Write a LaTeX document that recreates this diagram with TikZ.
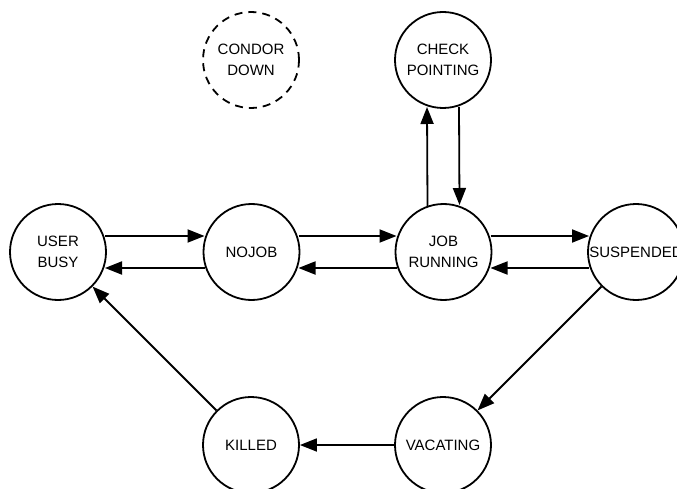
\documentclass[tikz,border=0pt]{standalone}
\usepackage{fontspec}
\setmainfont{Liberation Sans}
\usetikzlibrary{arrows.meta,calc}
\begin{document}
\begin{tikzpicture}[x=1pt,y=-1pt,
  state/.style={circle,draw,line width=1.8pt,minimum size=96pt,inner sep=0pt,
    align=center,font=\fontsize{15}{21}\selectfont},
  ghost/.style={state,dashed,dash pattern=on 8pt off 6pt},
  tr/.style={line width=1.8pt,-{Triangle[length=17pt,width=13pt]}}]
\useasboundingbox (0,0) rectangle (677,489);
% states
\node[ghost] (down) at (251,60) {CONDOR\\DOWN};
\node[state] (ckpt) at (443,60) {CHECK\\POINTING};
\node[state] (busy) at (58,252) {USER\\BUSY};
\node[state] (nojob) at (251.5,252) {NOJOB};
\node[state] (run) at (443.5,252) {JOB\\RUNNING};
\node[state] (susp) at (636,252) {SUSPENDED};
\node[state] (kill) at (251,445) {KILLED};
\node[state] (vac) at (443,445) {VACATING};
% paired transitions along the middle row: forward above, back below
\draw[tr] ($(busy.center)+(47,-16)$) -- ($(nojob.center)+(-47,-16)$);
\draw[tr] ($(nojob.center)+(-47,16)$) -- ($(busy.center)+(47,16)$);
\draw[tr] ($(nojob.center)+(47,-16)$) -- ($(run.center)+(-47,-16)$);
\draw[tr] ($(run.center)+(-47,16)$) -- ($(nojob.center)+(47,16)$);
\draw[tr] ($(run.center)+(47,-16)$) -- ($(susp.center)+(-47,-16)$);
\draw[tr] ($(susp.center)+(-47,16)$) -- ($(run.center)+(47,16)$);
% checkpointing loop
\draw[tr] ($(run.center)+(-16,-46)$) -- ($(ckpt.center)+(-16,47)$);
\draw[tr] ($(ckpt.center)+(16,47)$) -- ($(run.center)+(16,-47)$);
% eviction path
\draw[tr] (susp) -- (vac);
\draw[tr] (vac) -- (kill);
\draw[tr] (kill) -- (busy);
\end{tikzpicture}
\end{document}
